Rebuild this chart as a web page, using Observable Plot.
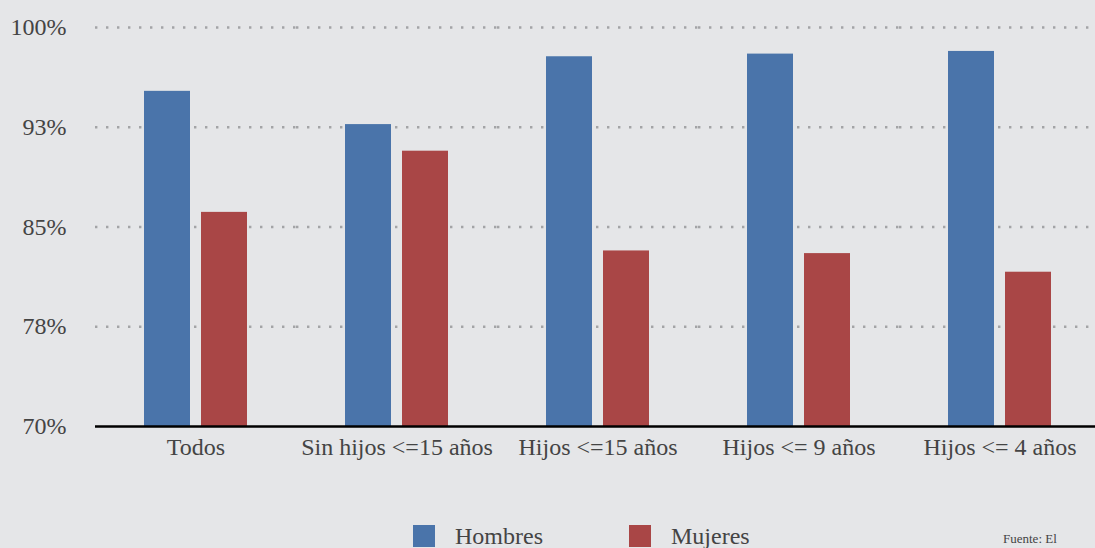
<!DOCTYPE html>
<html>
<head>
<meta charset="utf-8">
<script src="https://cdn.jsdelivr.net/npm/d3@7"></script>
<script src="https://cdn.jsdelivr.net/npm/@observablehq/plot@0.6"></script>
<style>
  html, body { margin: 0; padding: 0; background: #e5e6e8; overflow: hidden; width: 1095px; height: 548px; }
  #chart svg { max-width: none !important; display: block; }
  .legend { position: absolute; top: 524px; left: 413px; display: flex; align-items: center;
    font-family: "Liberation Serif", "Times New Roman", serif; font-size: 24px; line-height: 24px; color: #444; }
  .legend .sw { width: 22px; height: 22px; display: inline-block; }
  .legend .lab { margin-left: 20px; }
  .caption { position: absolute; top: 532px; left: 1003px; font-family: "Liberation Serif", serif; font-size: 13px; line-height: 14px; color: #444; white-space: nowrap; }
</style>
</head>
<body>
<div id="chart"></div>
<div class="legend">
  <span class="sw" style="background:#4a74aa"></span><span class="lab">Hombres</span>
  <span class="sw" style="background:#a94646; margin-left:86px"></span><span class="lab">Mujeres</span>
</div>
<div class="caption">Fuente: El</div>
<script>
const categories = ["Todos", "Sin hijos <=15 años", "Hijos <=15 años", "Hijos <= 9 años", "Hijos <= 4 años"];
const sexes = ["Hombres", "Mujeres"];
const hombres = [95.2, 92.7, 97.8, 98.0, 98.2];
const mujeres = [86.1, 90.7, 83.2, 83.0, 81.6];
const yTicks = [70, 77.5, 85, 92.5, 100];
const colors = ["#4a74aa", "#a94646"];

const data = [];
categories.forEach((c, i) => {
  data.push({cat: c, sex: "Hombres", value: hombres[i]});
  data.push({cat: c, sex: "Mujeres", value: mujeres[i]});
});

const chart = Plot.plot({
  width: 1100,
  height: 480,
  marginLeft: 95,
  marginRight: 0,
  marginTop: 27,
  marginBottom: 54,
  style: {background: "#e5e6e8", fontFamily: "'Liberation Serif', 'Times New Roman', serif", fontSize: "24px", color: "#444", overflow: "visible"},
  fx: {domain: categories, padding: 0, label: null, tickSize: 0, tickPadding: 11, axis: "bottom"},
  x: {domain: sexes, paddingInner: 0.2, paddingOuter: 0.86, axis: null},
  y: {domain: [70, 100], ticks: yTicks, tickFormat: d => Math.round(d) + "%", tickSize: 0, tickPadding: 29, label: null},
  color: {domain: sexes, range: colors},
  marks: [
    Plot.ruleY(yTicks.filter(d => d > 70), {stroke: "#a3a4a6", strokeWidth: 2.4, strokeDasharray: "2.4,8.6", strokeOpacity: 1}),
    Plot.barY(data, {fx: "cat", x: "sex", y1: 70, y2: "value", fill: "sex"}),
    Plot.ruleY([70], {stroke: "#000", strokeWidth: 2.5})
  ]
});
document.getElementById("chart").appendChild(chart);
</script>
</body>
</html>
